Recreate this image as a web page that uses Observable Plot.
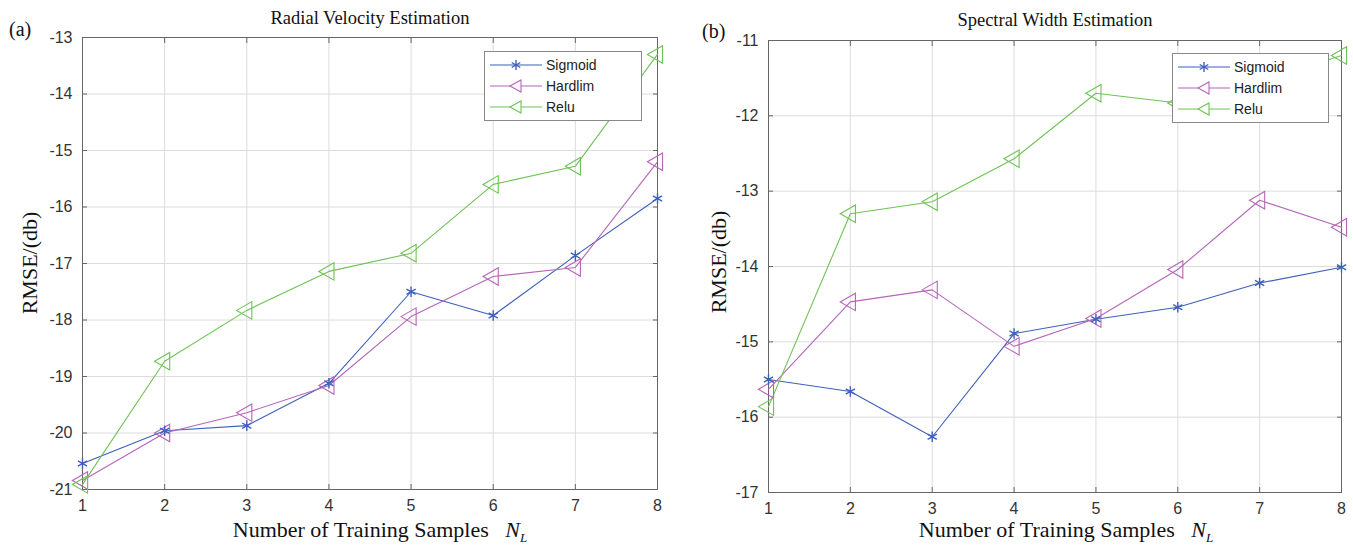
<!DOCTYPE html>
<html><head><meta charset="utf-8">
<script src="https://cdn.jsdelivr.net/npm/d3@7"></script>
<script src="https://cdn.jsdelivr.net/npm/@observablehq/plot@0.6"></script>
<style>
body{margin:0;background:#fff;width:1353px;height:548px;position:relative;overflow:hidden;}
.abs{position:absolute;white-space:nowrap;line-height:1;}
.serif{font-family:"Liberation Serif","Times New Roman",serif;color:#111;}
.legend{position:absolute;background:#fff;border:1px solid #888;font-family:"Liberation Sans",Arial,sans-serif;font-size:14px;color:#222;padding:2px 0;}
.legend .row{display:flex;align-items:center;height:21px;}
.legend svg{display:block;margin:0 4px 0 5px;}
#root svg text{font-size:16px !important;font-family:"Liberation Sans",Arial,sans-serif;}
</style></head><body>
<div id="root"></div>
<script>
const samples = [1,2,3,4,5,6,7,8];
const seriesNames = ["Sigmoid","Hardlim","Relu"];
const colors = ["#3f5fbb","#b466b8","#6fc255"];

// Panel (a): Radial Velocity Estimation
const radialSigmoid = [-20.54,-19.96,-19.87,-19.12,-17.50,-17.92,-16.86,-15.85];
const radialHardlim = [-20.84,-20.00,-19.64,-19.16,-17.94,-17.23,-17.07,-15.20];
const radialRelu    = [-20.91,-18.73,-17.83,-17.14,-16.82,-15.60,-15.28,-13.30];
const radialTicks = [-21,-20,-19,-18,-17,-16,-15,-14,-13];

// Panel (b): Spectral Width Estimation
const widthSigmoid = [-15.50,-15.66,-16.26,-14.89,-14.70,-14.54,-14.22,-14.01];
const widthHardlim = [-15.63,-14.47,-14.31,-15.06,-14.69,-14.04,-13.12,-13.48];
const widthRelu    = [-15.86,-13.30,-13.14,-12.57,-11.70,-11.83,-11.55,-11.20];
const widthTicks = [-17,-16,-15,-14,-13,-12,-11];

function rows(arrs){
  const out=[];
  arrs.forEach((a,i)=>a.forEach((v,j)=>out.push({x:samples[j],y:v,s:seriesNames[i]})));
  return out;
}

const root = document.getElementById("root");
function place(el, left, top){
  el.style.position="absolute"; el.style.left=left+"px"; el.style.top=top+"px";
  el.style.maxWidth="none"; el.style.overflow="visible";
  root.appendChild(el);
}

function build(data,dom,ticks,svgLeft,left,width,top,h){
  const p = Plot.plot({
    width, height:h,
    marginLeft:left, marginRight:24, marginTop:0, marginBottom:0,
    style:{fontFamily:"'Liberation Sans',Arial,sans-serif",fontSize:"16px",color:"#333",background:"transparent",overflow:"visible"},
    x:{domain:[1,8]},
    y:{domain:dom},
    color:{domain:seriesNames,range:colors},
    marks:[
      Plot.gridX(samples,{stroke:"#dcdcdc",strokeOpacity:1}),
      Plot.gridY(ticks,{stroke:"#dcdcdc",strokeOpacity:1}),
      Plot.frame({stroke:"#666"}),
      Plot.axisX(samples,{anchor:"bottom",tickSize:-5,text:null,stroke:"#666",label:null}),
      Plot.axisX(samples,{anchor:"top",tickSize:-5,text:null,stroke:"#666",label:null}),
      Plot.axisY(ticks,{anchor:"left",tickSize:-5,text:null,stroke:"#666",label:null}),
      Plot.axisY(ticks,{anchor:"right",tickSize:-5,text:null,stroke:"#666",label:null}),
      Plot.axisX(samples,{anchor:"bottom",tickSize:0,tickPadding:10,label:null,fontSize:16,fill:"#333"}),
      Plot.axisY(ticks,{anchor:"left",tickSize:0,tickPadding:10,label:null,fontSize:16,fill:"#333",tickFormat:d=>String(d)}),
      Plot.line(data,{x:"x",y:"y",z:"s",stroke:"s",strokeWidth:1.1}),
      Plot.dot(data.filter(d=>d.s!=="Sigmoid"),{x:"x",y:"y",stroke:"s",symbol:"triangle",rotate:-90,r:6.5,fill:"none",strokeWidth:1.1}),
      Plot.dot(data.filter(d=>d.s==="Sigmoid"),{x:"x",y:"y",stroke:"s",symbol:"asterisk",r:5,strokeWidth:1.4})
    ]
  });
  place(p,svgLeft,top);
  return p;
}
// frame (a): x 82..657, y 37..489 ; frame (b): x 768..1341, y 40..492
build(rows([radialSigmoid,radialHardlim,radialRelu]),[-21,-13],radialTicks,0,82,681,37,452);
build(rows([widthSigmoid,widthHardlim,widthRelu]),[-17,-11],widthTicks,690,78,675,40,452);

function text(html, cls, left, top, size, extra){
  const d=document.createElement("div");
  d.className="abs "+cls; d.innerHTML=html; d.style.fontSize=size+"px";
  d.style.left=left+"px"; d.style.top=top+"px";
  if(extra) Object.assign(d.style, extra);
  root.appendChild(d); return d;
}
// Titles
text("Radial Velocity Estimation","serif",370,9,18.5,{transform:"translateX(-50%)"});
text("Spectral Width Estimation","serif",1055,11,18.5,{transform:"translateX(-50%)"});
text("(a)","serif",9,19,20);
text("(b)","serif",702,21,20);
// X labels
const xl = 'Number of Training Samples&nbsp;&nbsp;&nbsp;<i>N</i><sub style="font-size:13px;font-style:italic;vertical-align:-5px;line-height:0">L</sub>';
text(xl,"serif",380,519,22,{transform:"translateX(-50%)"});
text(xl,"serif",1066,519,22,{transform:"translateX(-50%)"});
// Y labels
text("RMSE/(db)","serif",30,263,22,{transform:"translate(-50%,-50%) rotate(-90deg)"});
text("RMSE/(db)","serif",719,262,22,{transform:"translate(-50%,-50%) rotate(-90deg)"});

// Legends
function legend(left, top, w, h){
  const box=document.createElement("div");
  box.className="legend"; box.style.left=left+"px"; box.style.top=top+"px";
  box.style.width=w+"px"; box.style.height=h+"px"; box.style.boxSizing="border-box";
  seriesNames.forEach((n,i)=>{
    const r=document.createElement("div"); r.className="row";
    const marker = n==="Sigmoid"
      ? `<g stroke="${colors[i]}" stroke-width="1.4"><line x1="26" y1="5" x2="26" y2="15"/><line x1="21.7" y1="7.5" x2="30.3" y2="12.5"/><line x1="21.7" y1="12.5" x2="30.3" y2="7.5"/></g>`
      : `<polygon points="20,10 31,4 31,16" fill="white" stroke="${colors[i]}" stroke-width="1.1"/>`;
    r.innerHTML=`<svg width="52" height="20"><line x1="0" y1="10" x2="52" y2="10" stroke="${colors[i]}" stroke-width="1.1"/>${marker}</svg><span>${n}</span>`;
    box.appendChild(r);
  });
  root.appendChild(box);
}
legend(484,51,158,70);
legend(1172,53,157,70);
</script>
</body></html>
